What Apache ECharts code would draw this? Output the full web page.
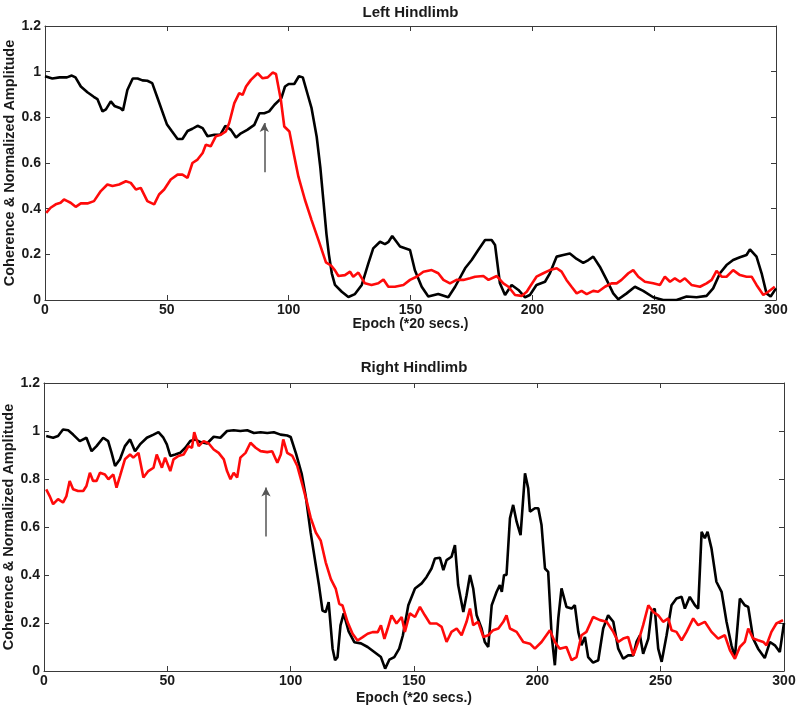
<!DOCTYPE html>
<html>
<head>
<meta charset="utf-8">
<script src="https://cdn.jsdelivr.net/npm/echarts@6/dist/echarts.min.js"></script>
<style>
html,body{margin:0;padding:0;background:#fff;}
#chart{width:800px;height:711px;}
</style>
</head>
<body>
<div id="chart"></div>
<script>
// ---------- DATA ----------
var titles = ['Left Hindlimb', 'Right Hindlimb'];
var xAxisName = 'Epoch (*20 secs.)';
var yAxisName = 'Coherence & Normalized Amplitude';
var xTicks = [0, 50, 100, 150, 200, 250, 300];
var yTicks = [0, 0.2, 0.4, 0.6, 0.8, 1, 1.2];
var arrowEpoch = 90;
var arrowFromTo = [[0.56, 0.775], [0.56, 0.765]];

// Left hindlimb - black (coherence)
var leftBlackX = [0,3,6,9,11,12.5,14.7,17.4,20,21.5,23.6,25,27,28.5,31,32,33.8,36,38,40,42,44,46,49,50,52,54.4,56.4,58.5,60.5,62.6,64.7,66.7,69.5,72,74,76.3,78.4,80.4,83,85.9,88,90,92,94.2,97,98.5,100,102.3,104.2,105.8,107.8,109.4,111.5,113,114.3,115.5,116.5,117.7,119,121.8,124.5,127.2,130,132.7,134.7,137.5,139.5,141,142.5,145.7,149.8,151.8,154.6,157.3,161.4,165.5,168.3,172.4,175.1,177.8,180.6,183.3,184.7,186.7,188.8,191.5,194.3,197,199,201.7,205.2,207.2,210,212.7,215.4,218.2,220.9,223,225,227.7,230.5,233.2,235.3,238.7,242.1,245.5,249.6,253.7,259.2,263.3,267.4,271.5,274.2,277,279.7,282.4,285.2,287.9,289.3,292,294.1,296.1,297.8,300];
var leftBlackY = [0.98,0.97,0.975,0.975,0.983,0.975,0.935,0.91,0.89,0.88,0.826,0.835,0.87,0.85,0.84,0.83,0.92,0.97,0.97,0.962,0.96,0.95,0.89,0.80,0.77,0.74,0.705,0.705,0.74,0.75,0.763,0.753,0.717,0.724,0.724,0.763,0.745,0.712,0.73,0.745,0.767,0.818,0.818,0.826,0.855,0.884,0.935,0.946,0.946,0.98,0.975,0.9,0.84,0.715,0.58,0.43,0.29,0.2,0.117,0.066,0.036,0.013,0.026,0.066,0.16,0.226,0.255,0.245,0.255,0.28,0.234,0.219,0.13,0.058,0.015,0.026,0.012,0.058,0.139,0.175,0.219,0.263,0.263,0.241,0.073,0.022,0.066,0.044,0.012,0.022,0.066,0.08,0.117,0.19,0.197,0.204,0.18,0.163,0.175,0.19,0.146,0.088,0.029,0.003,0.029,0.058,0.04,0.012,0,0,0.015,0.012,0.018,0.051,0.117,0.153,0.175,0.187,0.197,0.222,0.19,0.117,0.029,0.015,0.051];

// Left hindlimb - red (normalized amplitude)
var leftRedX = [0.5,2.3,4.4,6.4,7.8,9.2,10.5,12.6,14.7,17.4,20.1,22.9,25.6,27.7,30.4,33.2,35.2,37.3,39.3,42,44.8,46.8,48.9,51.6,54.4,56.4,58.5,60.5,62.6,64.7,66,68,70.1,72.2,74.2,75.6,77.7,79.7,81.1,82.5,84.5,87.3,89.3,91.4,93.4,94.8,96.8,98.2,100.3,102.3,104,106.7,109.4,112.2,115.3,117.5,119,120.4,123.1,125.2,126.5,128.6,131.3,134,136.8,138.9,140.9,143.6,147.1,149.8,152.5,155.3,158.7,161.4,163.5,166.2,168.9,171.7,174.4,176.5,179.9,182,185.4,188.1,190.2,192.9,195.6,197.7,199,201.7,204.5,207.2,210,212,214,216.1,218.2,220.2,222.3,225,227,229.8,232.5,234.6,236.6,239.4,241.4,243.5,246.2,249.6,252.4,254.4,256.5,258.5,260.6,262.6,265.3,268.8,271.5,273.6,275.6,277.7,279.7,282.4,285.2,287.9,290,292,294.8,296.8,299.5];
var leftRedY = [0.382,0.404,0.419,0.426,0.44,0.433,0.426,0.408,0.423,0.423,0.433,0.477,0.506,0.499,0.506,0.52,0.513,0.484,0.491,0.433,0.419,0.462,0.484,0.528,0.549,0.549,0.535,0.6,0.615,0.644,0.68,0.673,0.717,0.724,0.738,0.775,0.862,0.906,0.898,0.935,0.964,0.993,0.971,0.975,0.996,0.99,0.876,0.76,0.738,0.63,0.54,0.438,0.35,0.263,0.165,0.15,0.13,0.105,0.109,0.124,0.102,0.12,0.073,0.066,0.073,0.09,0.058,0.058,0.066,0.088,0.102,0.124,0.131,0.117,0.088,0.073,0.088,0.088,0.095,0.102,0.105,0.088,0.105,0.073,0.058,0.022,0.018,0.036,0.058,0.102,0.117,0.131,0.139,0.124,0.088,0.058,0.029,0.04,0.026,0.04,0.036,0.058,0.073,0.073,0.088,0.117,0.131,0.102,0.08,0.073,0.066,0.102,0.08,0.095,0.08,0.095,0.066,0.058,0.073,0.088,0.128,0.102,0.102,0.131,0.109,0.102,0.102,0.066,0.022,0.036,0.058];

// Right hindlimb - black (coherence)
var rightBlackX = [0.9,3.7,5.7,7.7,9.8,11.8,14.5,17.2,19.3,21.3,24,26,27.4,28.8,30.8,32.8,34.9,36.9,38.9,41.7,44.4,46.4,48.4,49.8,51.2,53.2,55.2,57.3,59.3,61.3,63.4,66.1,68.8,71.5,74.2,76.9,79.6,82.4,85.1,87.8,90.5,93.2,95.9,98.6,100,102.2,104.5,106.1,108.1,110.2,111.5,112.9,114.2,115.4,117,118,119,120.2,121.5,123.5,125.8,128.5,131.2,133.9,136.6,138.3,140,142,144,145.5,147.7,150.4,153.1,155.1,157.1,158.5,160.5,161.9,163.2,165.2,166.6,167.9,170,171.3,172.7,174,175.4,177.4,178.7,180.1,181.5,183.5,184.8,185.6,186.5,187.5,188.9,190.2,191.6,193.2,195,196.3,197,199,200.4,201.7,203.1,204.4,205.8,207.1,208.5,209.8,211.8,213.9,215.2,216.6,217.9,219.3,220.6,222.6,224.7,226.7,228.7,230.8,232.8,234.8,236.8,238.9,240.2,241.6,242.9,245,246.3,247.6,249,250.4,252.4,254.4,256.4,258.5,259.8,261.8,263.9,265.2,266.6,267.9,269,270.6,272.6,274.7,276.7,278.7,280.1,282.1,284.1,285.5,287.5,289.5,292.2,294.3,296.3,298.3,300];
var rightBlackY = [0.979,0.972,0.979,1.006,1.003,0.985,0.958,0.972,0.916,0.937,0.972,0.958,0.909,0.854,0.882,0.937,0.965,0.916,0.944,0.972,0.985,0.995,0.972,0.944,0.896,0.902,0.909,0.93,0.958,0.965,0.954,0.948,0.976,0.972,1.0,1.003,1.0,1.003,0.992,0.995,0.992,0.995,0.985,0.981,0.975,0.905,0.82,0.729,0.577,0.44,0.356,0.252,0.245,0.287,0.093,0.045,0.058,0.19,0.24,0.165,0.12,0.115,0.1,0.079,0.058,0.01,0.047,0.058,0.093,0.149,0.274,0.344,0.365,0.392,0.427,0.469,0.472,0.42,0.462,0.476,0.525,0.358,0.246,0.316,0.4,0.344,0.232,0.177,0.121,0.1,0.274,0.33,0.358,0.33,0.4,0.4,0.636,0.692,0.622,0.566,0.824,0.761,0.664,0.678,0.678,0.608,0.427,0.413,0.149,0.024,0.219,0.344,0.267,0.26,0.274,0.163,0.107,0.142,0.058,0.035,0.045,0.177,0.232,0.205,0.093,0.051,0.065,0.065,0.121,0.149,0.072,0.135,0.246,0.26,0.093,0.038,0.149,0.274,0.302,0.309,0.26,0.309,0.274,0.26,0.58,0.553,0.58,0.511,0.372,0.33,0.205,0.107,0.058,0.302,0.274,0.267,0.135,0.093,0.054,0.121,0.107,0.079,0.2];

// Right hindlimb - red (normalized amplitude)
var rightRedX = [0.9,2.3,3.7,5.7,7.7,9.1,10.4,11.8,13.8,15.9,17.2,18.6,19.9,21.3,22.7,24.7,26.1,28.1,29.4,30.8,32.8,34.9,36.2,38.3,40.3,42.3,44.4,45.7,47.8,49.1,51.2,52.5,54.5,56.6,58.6,60,60.9,62.7,64.7,66.8,68.8,70.8,72.9,74.2,75.6,76.9,78.3,79.6,81.7,83.7,85.8,87.8,90.5,92.5,94.6,96,97,98.6,100.7,102.7,104.7,106.8,108.1,110.2,112.2,114.2,116.3,118.3,119.7,121,123.1,125.1,127.1,129.2,131.2,133.2,135.3,136.6,138,139.3,140.9,142.9,145,146.3,148.3,150.4,152.4,154.4,156.5,159.2,161.2,163.2,165.2,167.3,169.3,171.3,172.7,174,176,178.1,180.1,182.1,184.2,186.2,187.5,188.9,191.6,194.3,197,199,201.7,205.1,207.1,209.1,211.8,213.9,215.9,217.9,219.9,222.6,225.4,228.1,230.8,232.8,234.8,236.8,238.9,240.9,242.9,245,247,249,251,253.1,254.4,256.4,258.5,260.5,263.2,265.2,267.9,270.6,273.3,276,278.1,280.1,282.1,284.1,285.5,287.5,289.5,291.6,292.9,294.9,296.9,299.6];
var rightRedY = [0.757,0.729,0.695,0.716,0.702,0.729,0.792,0.757,0.75,0.75,0.771,0.826,0.792,0.792,0.826,0.819,0.799,0.819,0.764,0.812,0.882,0.902,0.889,0.909,0.806,0.833,0.847,0.902,0.847,0.889,0.833,0.882,0.896,0.902,0.937,0.93,0.995,0.937,0.958,0.948,0.923,0.909,0.882,0.833,0.799,0.826,0.806,0.889,0.909,0.951,0.93,0.916,0.912,0.916,0.868,0.902,0.965,0.909,0.896,0.854,0.778,0.695,0.639,0.577,0.543,0.453,0.383,0.342,0.28,0.273,0.203,0.155,0.127,0.141,0.155,0.162,0.162,0.19,0.134,0.176,0.232,0.198,0.225,0.163,0.24,0.225,0.267,0.232,0.198,0.198,0.184,0.121,0.163,0.177,0.149,0.205,0.26,0.191,0.205,0.142,0.149,0.17,0.177,0.205,0.232,0.177,0.163,0.121,0.114,0.093,0.121,0.17,0.121,0.093,0.1,0.045,0.058,0.149,0.163,0.225,0.212,0.205,0.163,0.121,0.135,0.142,0.065,0.121,0.191,0.274,0.246,0.232,0.205,0.219,0.17,0.163,0.128,0.163,0.219,0.191,0.205,0.163,0.135,0.149,0.086,0.051,0.1,0.121,0.177,0.135,0.128,0.121,0.107,0.163,0.198,0.212];

// ---------- CHART ----------
function zip(xs, ys) { var out = []; for (var i = 0; i < xs.length; i++) out.push([xs[i], ys[i]]); return out; }

var FONT = '"Liberation Sans", Arial, sans-serif';
var TXT = '#1a1a1a';
var AX = '#3a3a3a';

var grids = [
  { left: 45, top: 26, width: 731, height: 274 },
  { left: 44, top: 383, width: 740, height: 288 }
];
var xNameGaps = [17, 20];
var titleY = [13, 368];

var xAxes = [], yAxes = [], series = [], gridOpts = [], graphics = [];
for (var g = 0; g < 2; g++) {
  gridOpts.push(Object.assign({ show: false, containLabel: false, outerBoundsMode: 'none' }, grids[g]));
  var common = {
    type: 'value', gridIndex: g,
    axisLine: { show: true, onZero: false, lineStyle: { color: AX, width: 1 } },
    axisTick: { show: true, inside: true, length: 5, lineStyle: { color: AX, width: 1 } },
    splitLine: { show: false }
  };
  xAxes.push(Object.assign({}, common, {
    position: 'bottom', min: xTicks[0], max: xTicks[xTicks.length - 1], interval: xTicks[1] - xTicks[0],
    axisLabel: { show: true, margin: 3, fontSize: 14, fontWeight: 'bold', color: TXT, fontFamily: FONT },
    name: xAxisName, nameLocation: 'middle', nameGap: xNameGaps[g], nameMoveOverlap: false,
    nameTextStyle: { fontSize: 14, fontWeight: 'bold', color: TXT, fontFamily: FONT }
  }));
  xAxes.push(Object.assign({}, common, {
    position: 'top', min: xTicks[0], max: xTicks[xTicks.length - 1], interval: xTicks[1] - xTicks[0],
    axisLabel: { show: false }
  }));
  yAxes.push(Object.assign({}, common, {
    position: 'left', min: yTicks[0], max: yTicks[yTicks.length - 1], interval: yTicks[1] - yTicks[0],
    axisLabel: { show: true, margin: 4, fontSize: 14, fontWeight: 'bold', color: TXT, fontFamily: FONT,
      formatter: function (v) { return String(+v.toFixed(1)); } },
    name: yAxisName, nameLocation: 'middle', nameGap: 28, nameRotate: 90, nameMoveOverlap: false,
    nameTextStyle: { fontSize: 14.5, fontWeight: 'bold', color: TXT, fontFamily: FONT }
  }));
  yAxes.push(Object.assign({}, common, {
    position: 'right', min: yTicks[0], max: yTicks[yTicks.length - 1], interval: yTicks[1] - yTicks[0],
    axisLabel: { show: false }
  }));
  graphics.push({
    type: 'text', x: grids[g].left + grids[g].width / 2, y: titleY[g],
    style: { text: titles[g], font: 'bold 15px ' + FONT, fill: TXT, align: 'center', verticalAlign: 'middle' }
  });
}

var blacks = [zip(leftBlackX, leftBlackY), zip(rightBlackX, rightBlackY)];
var reds = [zip(leftRedX, leftRedY), zip(rightRedX, rightRedY)];
for (var g2 = 0; g2 < 2; g2++) {
  series.push({
    type: 'line', xAxisIndex: g2 * 2, yAxisIndex: g2 * 2, data: blacks[g2],
    showSymbol: false, symbol: 'none', lineStyle: { color: '#000', width: 2.6 }, silent: true, animation: false,
    markLine: {
      silent: true, animation: false, symbolSize: [7, 9],
      lineStyle: { color: '#555', width: 1.5, type: 'solid' },
      label: { show: false },
      data: [[
        { coord: [arrowEpoch, arrowFromTo[g2][0]], symbol: 'none' },
        { coord: [arrowEpoch, arrowFromTo[g2][1]], symbol: 'arrow' }
      ]]
    }
  });
  series.push({
    type: 'line', xAxisIndex: g2 * 2, yAxisIndex: g2 * 2, data: reds[g2],
    showSymbol: false, symbol: 'none', lineStyle: { color: '#ff0a0a', width: 2.6 }, silent: true, animation: false
  });
}

var chart = echarts.init(document.getElementById('chart'), null, { renderer: 'canvas' });
chart.setOption({
  animation: false,
  backgroundColor: '#fff',
  textStyle: { fontFamily: FONT },
  grid: gridOpts,
  xAxis: xAxes,
  yAxis: yAxes,
  series: series,
  graphic: graphics
});
</script>
</body>
</html>
